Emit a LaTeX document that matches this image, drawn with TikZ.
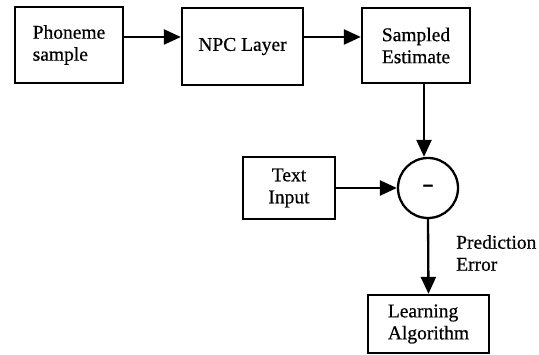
\documentclass[tikz,border=0pt]{standalone}
\usepackage{fontspec}
\setmainfont{Liberation Serif}[FakeBold=0.6]
\usetikzlibrary{arrows.meta}
\begin{document}
\begin{tikzpicture}[x=1pt,y=-1pt,
  every node/.style={font=\fontsize{19.5}{22}\selectfont},
  blk/.style={draw,line width=2.3pt,inner sep=0pt,align=left},
  sumnode/.style={draw,circle,line width=2.3pt,inner sep=0pt,minimum size=60pt},
  lbl/.style={inner sep=0pt,align=left},
  arr/.style={line width=2.3pt,-{Triangle[length=17pt,width=15pt]}}]
\useasboundingbox (0,0) rectangle (539,355);
\node[blk,minimum width=108pt,minimum height=76pt] (ph) at (69,45) {Phoneme\\sample};
\node[blk,minimum width=121pt,minimum height=77pt] (npc) at (242.5,46.5) {NPC Layer};
\node[blk,minimum width=108pt,minimum height=75pt,align=center] (se) at (416,45.5) {Sampled\\Estimate};
\node[blk,minimum width=92pt,minimum height=62pt,align=center] (ti) at (289,188) {Text\\Input};
\node[sumnode] (c) at (428,188) {\scalebox{1.8}[1.2]{-}};
\node[blk,minimum width=121pt,minimum height=58pt] (la) at (428.5,324) {Learning\\Algorithm};
\node[lbl,anchor=north west] (pe) at (456,235) {Prediction\\Error};
\coordinate (ay) at (0,37);
\coordinate (sx) at (424,0);
\draw[arr] (ph.east |- ay) -- (npc.west |- ay);
\draw[arr] (npc.east |- ay) -- (se.west |- ay);
\draw[arr] (se.south -| sx) -- (sx |- c.north);
\draw[arr] (ti.east) -- (c.west);
\draw[arr] (c.south) -- (la.north);
\end{tikzpicture}
\end{document}
